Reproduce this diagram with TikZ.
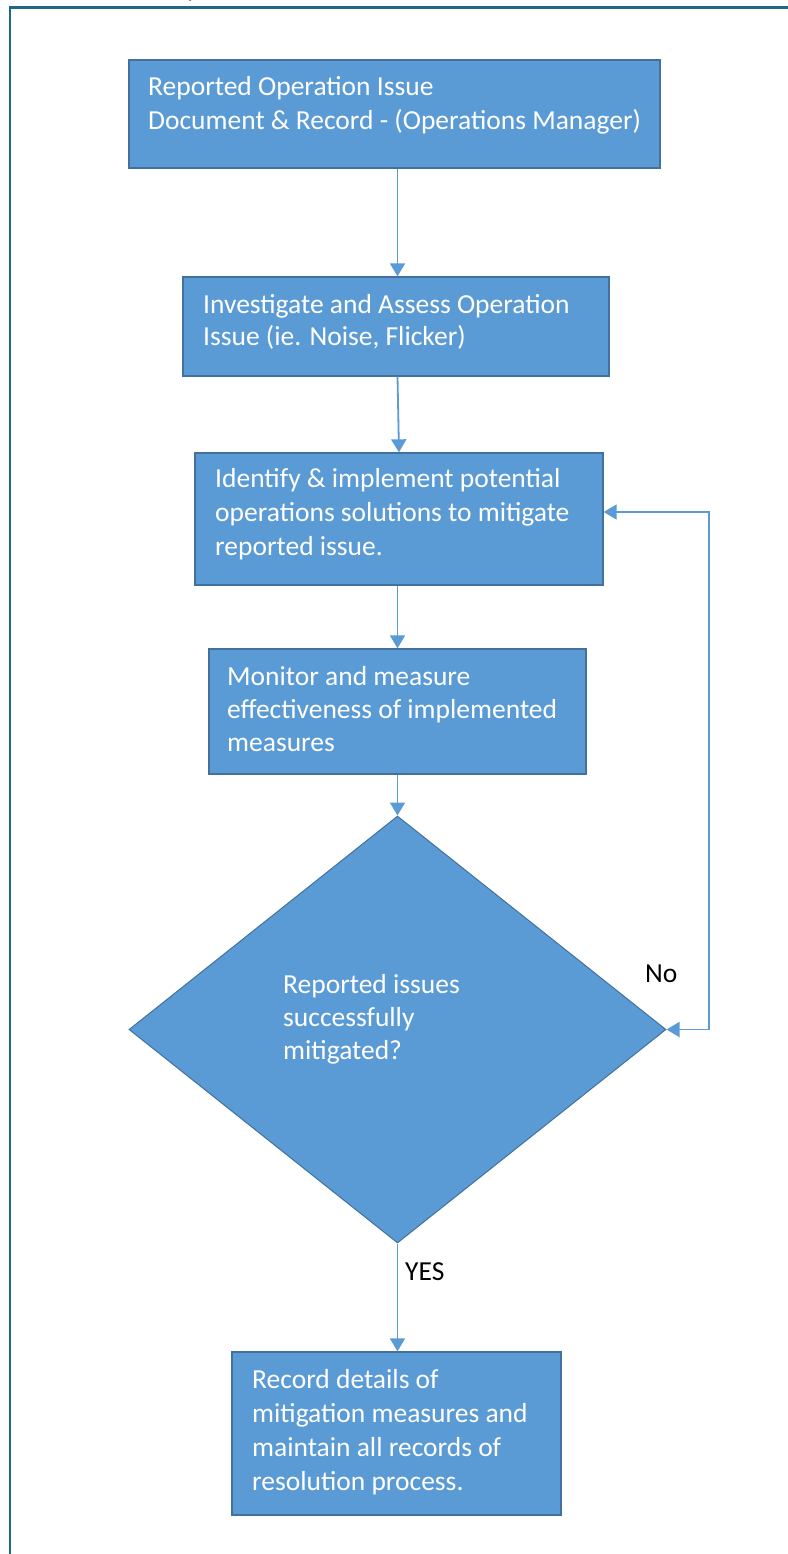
\documentclass[tikz,border=0pt]{standalone}
\usepackage{fontspec}
\setmainfont{Carlito}
\usetikzlibrary{arrows.meta,shapes.geometric}
\definecolor{boxfill}{HTML}{5B9BD5}
\definecolor{boxline}{HTML}{41719C}
\definecolor{arrowc}{HTML}{5B9BD5}
\definecolor{framec}{HTML}{1F6688}
\tikzset{
  box/.style={rectangle, fill=boxfill, draw=boxline, line width=1.3pt, inner sep=0pt},
  decision/.style={diamond, fill=boxfill, draw=boxline, line width=1pt, inner sep=0pt},
  boxtext/.style={anchor=base west, inner sep=0pt, align=left, text=white, font=\fontsize{27.5}{34}\selectfont},
  lbl/.style={anchor=base west, inner sep=0pt, text=black, font=\fontsize{27.5}{34}\selectfont},
  arr/.style={draw=arrowc, line width=1.8pt, -{Triangle[width=15pt,length=13pt]}},
  arrboth/.style={draw=arrowc, line width=1.8pt, {Triangle[width=15pt,length=13pt]}-{Triangle[width=15pt,length=13pt]}},
  frameline/.style={draw=framec, line width=2.2pt}
}
\begin{document}
\begin{tikzpicture}[x=1pt,y=-1pt]
\useasboundingbox (0,0) rectangle (787,1554);
% frame
\draw[frameline] (10,1556) -- (10,7.5) -- (790,7.5);
% cut-off text at the top
\begin{scope}
  \clip (0,0) rectangle (787,6);
  \node[lbl] (cut) at (186,-3) {y};
\end{scope}
% boxes
\node[box, minimum width=531pt, minimum height=108pt] (b1) at (394.5,114) {};
\node[box, minimum width=426pt, minimum height=99pt] (b2) at (396,326.5) {};
\node[box, minimum width=408pt, minimum height=132pt] (b3) at (399,519) {};
\node[box, minimum width=377pt, minimum height=125pt] (b4) at (397.5,711.5) {};
\node[decision, minimum width=537pt, minimum height=427pt] (dia) at (397.5,1029.5) {};
\node[box, minimum width=329pt, minimum height=163pt] (b5) at (396.5,1433.5) {};
% texts (anchored at the baseline of their last line)
\node[boxtext] (t1) at (148,130) {Reported Operation Issue\\Document \& Record - (Operations Manager)};
\node[boxtext, font=\fontsize{27.5}{32}\selectfont] (t2) at (203,345) {Investigate and Assess Operation\\Issue (ie. Noise, Flicker)};
\node[boxtext] (t3) at (215,555) {Identify \& implement potential\\operations solutions to mitigate\\reported issue.};
\node[boxtext, font=\fontsize{27.5}{33}\selectfont] (t4) at (227,751) {Monitor and measure\\effectiveness of implemented\\measures};
\node[boxtext, font=\fontsize{27.5}{33}\selectfont] (td) at (283,1059) {Reported issues\\successfully\\mitigated?};
\node[boxtext] (t5) at (252,1490) {Record details of\\mitigation measures and\\maintain all records of\\resolution process.};
% connectors
\coordinate (lp) at (709,512);
\draw[arr] (b1.south -| dia.north) -- (b2.north -| dia.north);
\draw[arr] (b2.south -| dia.north) -- (b3.north);
\draw[arr] (b3.south -| dia.north) -- (b4.north -| dia.north);
\draw[arr] (b4.south -| dia.north) -- (dia.north);
\draw[arr] (dia.south) -- (b5.north -| dia.south);
\draw[arrboth] (dia.east) -- (dia.east -| lp) -- (lp) -- (lp -| b3.east);
% labels
\node[lbl] (no) at (645,982) {No};
\node[lbl] (yes) at (405,1280) {YES};
\end{tikzpicture}
\end{document}
